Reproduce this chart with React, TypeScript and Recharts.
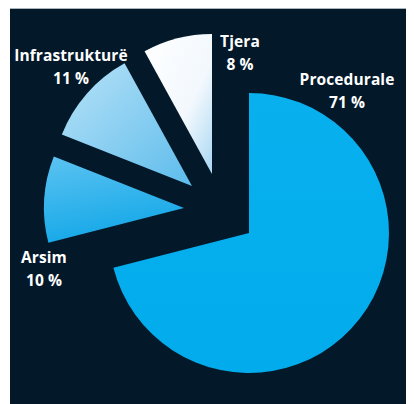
import React from "react";
import { PieChart, Pie, Cell } from "recharts";

// share of projects by field
const categories = ["Procedurale", "Arsim", "Infrastrukturë", "Tjera"];
const shares = [71, 10, 11, 8];

const data = categories.map((name, i) => ({ name, value: shares[i] }));

const FILLS = ["url(#gMain)", "url(#gArsim)", "url(#gInfra)", "url(#gTjera)"];
// exploded slices are pulled out by hand, each a little differently
const SHIFT = [
  [0, 0],
  [-65, -25],
  [-57, -47],
  [-37, -59],
];
// label anchors, relative to the pie centre: [dx, first baseline dy]
const LABEL_AT = [
  [98, -148],
  [-205, 30],
  [-178, -172],
  [-9, -186],
];

const renderLabel = (props: any) => {
  const { cx, cy, index, name, value } = props;
  const [dx, dy] = LABEL_AT[index];
  const x = cx + dx;
  return (
    <text
      x={x}
      y={cy + dy}
      fill="#ffffff"
      textAnchor="middle"
      fontFamily="'Open Sans', sans-serif"
      fontWeight={700}
      fontSize={15.5}
      letterSpacing={0.1}
    >
      <tspan x={x}>{name}</tspan>
      <tspan x={x} dy={23}>{`${value} %`}</tspan>
    </text>
  );
};

const App: React.FC = () => {
  return (
    <div
      style={{
        position: "relative",
        width: 414,
        height: 404,
        margin: "-8px 0 0 -8px",
        background: "#ffffff",
        overflow: "hidden",
      }}
    >
      <div
        style={{
          position: "absolute",
          left: 10,
          top: 8,
          width: 403,
          height: 396,
          background: "#03192a",
          borderTop: "1px solid #a9b4bb",
          boxSizing: "border-box",
        }}
      >
        <PieChart
          width={403}
          height={395}
          margin={{ top: 0, right: 0, bottom: 0, left: 0 }}
        >
          <defs>
            <linearGradient id="gMain" x1="0" y1="0" x2="0" y2="1">
              <stop offset="0%" stopColor="#08b0ee" />
              <stop offset="100%" stopColor="#02acec" />
            </linearGradient>
            <linearGradient id="gArsim" x1="0" y1="0" x2="0.3" y2="1">
              <stop offset="0%" stopColor="#5cc3f1" />
              <stop offset="100%" stopColor="#14a8e8" />
            </linearGradient>
            <linearGradient id="gInfra" x1="0" y1="0" x2="1" y2="1">
              <stop offset="0%" stopColor="#b8e2f7" />
              <stop offset="100%" stopColor="#5dbcec" />
            </linearGradient>
            <linearGradient id="gTjera" x1="0" y1="0" x2="1" y2="1">
              <stop offset="0%" stopColor="#ffffff" />
              <stop offset="60%" stopColor="#f2f8fd" />
              <stop offset="100%" stopColor="#a9d7f3" />
            </linearGradient>
          </defs>
          <Pie
            data={data}
            dataKey="value"
            nameKey="name"
            cx={239}
            cy={224}
            outerRadius={140}
            startAngle={90}
            endAngle={-270}
            stroke="none"
            label={renderLabel}
            labelLine={false}
            isAnimationActive={false}
          >
            {data.map((d, i) => (
              <Cell
                key={d.name}
                fill={FILLS[i]}
                transform={`translate(${SHIFT[i][0]}, ${SHIFT[i][1]})`}
              />
            ))}
          </Pie>
        </PieChart>
      </div>
    </div>
  );
};

export default App;
